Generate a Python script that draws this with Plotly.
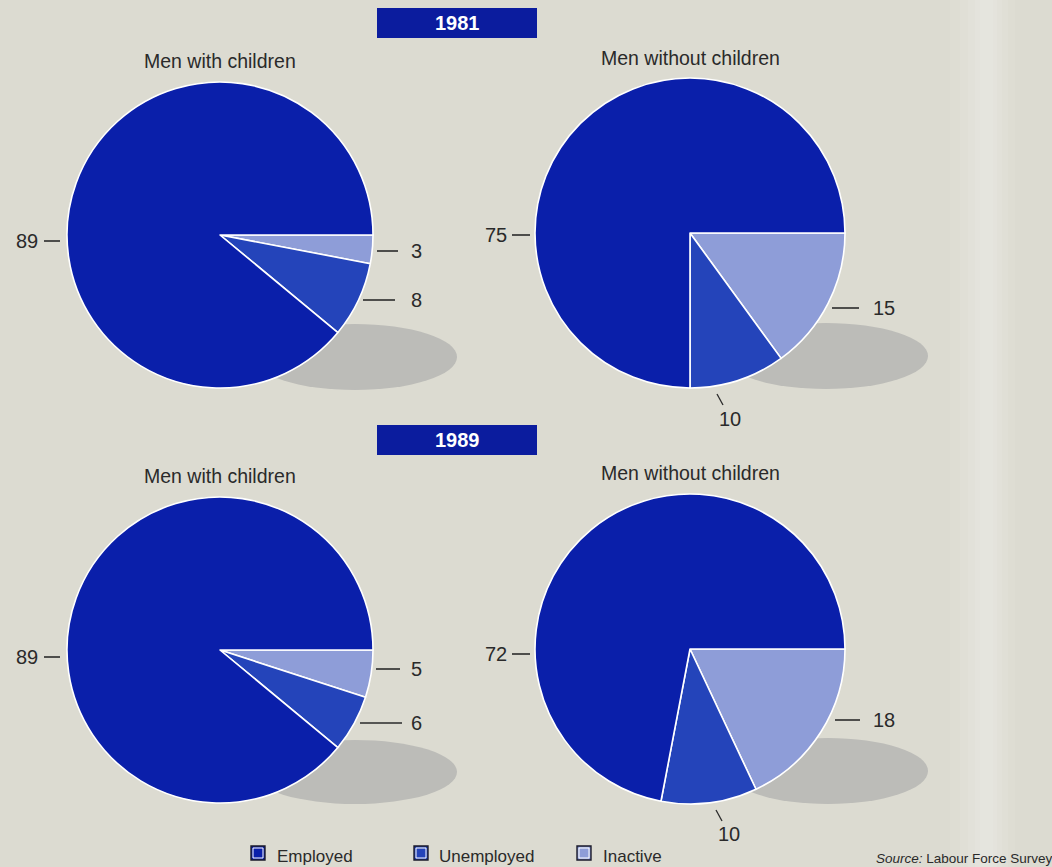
import plotly.graph_objects as go

W, H = 1052, 867

# Labour-force status of men, percentages
categories = ["Inactive", "Unemployed", "Employed"]
legend_order = ["Employed", "Unemployed", "Inactive"]
years = ["1981", "1989"]
groups = ["Men with children", "Men without children"]

with_children_1981 = [3, 8, 89]
without_children_1981 = [15, 10, 75]
with_children_1989 = [5, 6, 89]
without_children_1989 = [18, 10, 72]

colors = {"Employed": "#0a1faa", "Unemployed": "#2444ba", "Inactive": "#8e9dd8"}
BG = "#dcdbd1"
INK = "#2a2a2a"
FONT = "Liberation Sans, Arial, sans-serif"


def px(x):
    return x / W


def py(y):
    return 1 - y / H


# pie placement in pixels: (cx, cy, r)
panels = [
    (with_children_1981, 220, 235, 153, groups[0], 61),
    (without_children_1981, 690, 233, 155, groups[1], 58),
    (with_children_1989, 220, 650, 153, groups[0], 476),
    (without_children_1989, 690, 649, 155, groups[1], 473),
]

fig = go.Figure()
shapes = []
annotations = []


def line(x0, y0, x1, y1, width=1.6):
    shapes.append(dict(type="line", xref="paper", yref="paper",
                       x0=px(x0), y0=py(y0), x1=px(x1), y1=py(y1),
                       line=dict(color=INK, width=width), layer="above"))


def text(x, y, s, size=20, xanchor="center", color=INK, **kw):
    annotations.append(dict(x=px(x), y=py(y), xref="paper", yref="paper",
                            text=s, showarrow=False, xanchor=xanchor, yanchor="middle",
                            font=dict(family=FONT, size=size, color=color), **kw))


# soft lighter band along the right side of the page
for x0, x1, op in [(950, 1015, 0.06), (960, 1008, 0.07), (968, 1002, 0.08),
                   (975, 997, 0.08), (980, 993, 0.07)]:
    shapes.append(dict(type="rect", xref="paper", yref="paper",
                       x0=px(x0), x1=px(x1), y0=0, y1=1,
                       fillcolor="white", opacity=op, line=dict(width=0), layer="below"))

# drop shadows under each pie
for (cx, cy, rx, ry) in [(355, 357, 102, 33), (826, 356, 102, 33),
                         (355, 772, 102, 32), (828, 771, 100, 33)]:
    shapes.append(dict(type="circle", xref="paper", yref="paper",
                       x0=px(cx - rx), x1=px(cx + rx), y0=py(cy + ry), y1=py(cy - ry),
                       fillcolor="#bcbcb8", line=dict(width=0), layer="below"))

for vals, cx, cy, r, title, ty in panels:
    fig.add_trace(go.Pie(
        labels=categories, values=vals, sort=False, direction="clockwise",
        rotation=90, textinfo="none", hoverinfo="label+value",
        marker=dict(colors=[colors[c] for c in categories],
                    line=dict(color="white", width=1.6)),
        domain=dict(x=[px(cx - r), px(cx + r)], y=[py(cy + r), py(cy - r)]),
        showlegend=False,
    ))
    text(cx, ty, title, size=19.5)

# year banners
for yr, y0 in zip(years, [8, 425]):
    shapes.append(dict(type="rect", xref="paper", yref="paper",
                       x0=px(377), x1=px(537), y0=py(y0 + 30), y1=py(y0),
                       fillcolor="#0b1c9e", line=dict(width=0), layer="above"))
    text(457, y0 + 15, "<b>%s</b>" % yr, size=20, color="white")

# value labels with leader lines
# 1981, with children
text(40, 241, str(with_children_1981[2]), xanchor="right")
line(44, 241, 60, 241)
line(377, 251, 398, 251)
text(409, 251, str(with_children_1981[0]), xanchor="left")
line(363, 300, 395, 300)
text(409, 300, str(with_children_1981[1]), xanchor="left")

# 1981, without children
text(509, 235, str(without_children_1981[2]), xanchor="right")
line(512, 235, 530, 235)
line(832, 308, 859, 308)
text(871, 308, str(without_children_1981[0]), xanchor="left")
line(717, 394, 723, 405, width=1.3)
text(730, 419, str(without_children_1981[1]))

# 1989, with children
text(40, 657, str(with_children_1989[2]), xanchor="right")
line(44, 657, 60, 657)
line(376, 669, 400, 669)
text(409, 669, str(with_children_1989[0]), xanchor="left")
line(360, 723, 402, 723)
text(409, 723, str(with_children_1989[1]), xanchor="left")

# 1989, without children
text(509, 654, str(without_children_1989[2]), xanchor="right")
line(512, 654, 530, 654)
line(835, 720, 860, 720)
text(871, 720, str(without_children_1989[0]), xanchor="left")
line(716, 810, 722, 821, width=1.3)
text(729, 834, str(without_children_1989[1]))

# legend
for name, x0, tx in zip(legend_order, [251, 414, 577], [275, 437, 601]):
    shapes.append(dict(type="rect", xref="paper", yref="paper",
                       x0=px(x0), x1=px(x0 + 14), y0=py(860), y1=py(846),
                       fillcolor=colors[name], line=dict(color="#1a1a2a", width=1.4),
                       layer="above"))
    shapes.append(dict(type="rect", xref="paper", yref="paper",
                       x0=px(x0 + 2), x1=px(x0 + 12), y0=py(858), y1=py(848),
                       fillcolor=colors[name], line=dict(color="white", width=1),
                       layer="above"))
    text(tx, 856, name, size=17, xanchor="left")

text(874, 858, "<i>Source:</i> Labour Force Survey", size=13.5, xanchor="left")

fig.update_layout(
    width=W, height=H, margin=dict(l=0, r=0, t=0, b=0),
    paper_bgcolor=BG, plot_bgcolor=BG,
    shapes=shapes, annotations=annotations,
)

fig.write_html("out.html")
